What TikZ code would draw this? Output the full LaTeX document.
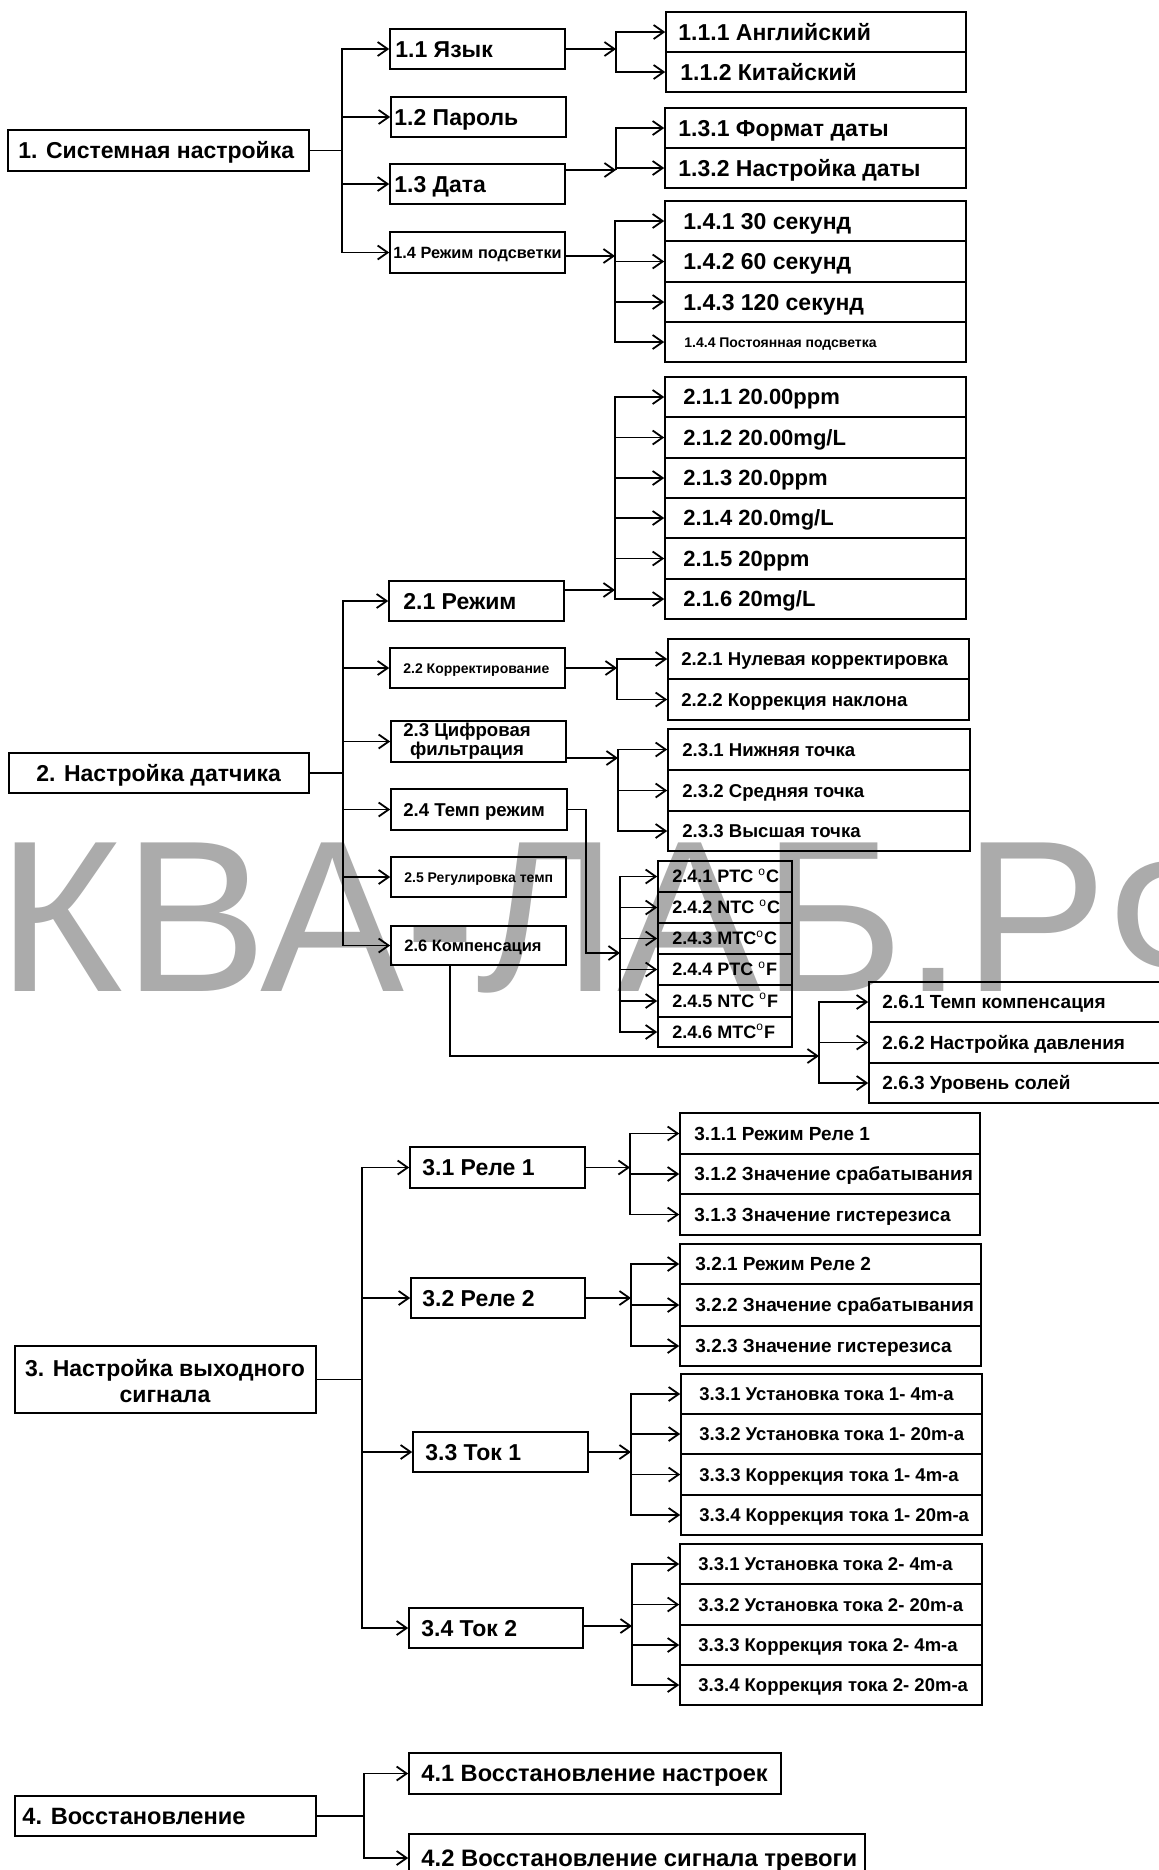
\documentclass[tikz,border=0pt]{standalone}
\usepackage{fontspec}
\setmainfont{Liberation Sans}
\usetikzlibrary{fit,arrows.meta}
\tikzset{
  bxs/.style={draw, line width=0.8pt, inner sep=0pt},
  bxo/.style={draw, line width=0.8pt, inner sep=0pt},
  txt/.style={inner sep=0pt, anchor=base west, font=\bfseries},
  ln/.style={line width=0.9pt},
  arr/.style={line width=0.9pt, -{Straight Barb[length=5pt,width=7pt,line width=0.9pt]}},
}
% box with one line of text: [style]{name}{x1}{y1}{x2}{y2}{text x}{size pt}{text}
\newcommand{\bt}[9][bxs]{%
  \node[#1, fit={(#3,#4)(#5,#6)}] (#2) {};
  \node[txt] (#2t) at (#7,{(#4+#6)/2+0.716*#8}) {\fontsize{#8pt}{#8pt}\selectfont #9};}
\newcommand{\dg}{\textsuperscript{\mdseries o}}
\begin{document}
\begin{tikzpicture}[x=0.5pt,y=-0.5pt]
\useasboundingbox (0,0) rectangle (1159,1870);
\clip (0,0) rectangle (1159,1870);
\fill[white] (0,0) rectangle (1159,1870);
% watermark
\node[inner sep=0, anchor=base west, text=black!33, font=\fontsize{108pt}{108pt}\selectfont] (wm) at (-3,991) {КВА-ЛАБ.РФ};

% ---------- section 1 ----------
\bt{s1}{8}{130}{309}{171}{18}{11.5}{1. Системная настройка}
\bt{n11}{390}{29}{565}{69}{395}{11.5}{1.1 Язык}
\bt{n12}{391}{97}{566}{137}{394}{11.5}{1.2 Пароль}
\bt{n13}{390}{164}{565}{204}{394}{11.5}{1.3 Дата}
\bt{n14}{390}{232}{565}{273}{393}{8.15}{1.4 Режим подсветки}
\bt{n111}{666}{12}{966}{52}{678}{11.5}{1.1.1 Английский}
\bt{n112}{666}{52}{966}{92}{680}{11.5}{1.1.2 Китайский}
\bt{n131}{665}{108}{966}{148}{678}{11.5}{1.3.1 Формат даты}
\bt{n132}{665}{148}{966}{188}{678}{11.5}{1.3.2 Настройка даты}
\bt{n141}{665}{201}{966}{241}{683}{11.5}{1.4.1 30 секунд}
\bt{n142}{665}{241}{966}{282}{683}{11.5}{1.4.2 60 секунд}
\bt{n143}{665}{282}{966}{322}{683}{11.5}{1.4.3 120 секунд}
\bt{n144}{665}{322}{966}{362}{684}{7}{1.4.4 Постоянная подсветка}

\coordinate (tr1) at (342,150.5);
\coordinate (j11) at (616,49);
\coordinate (j13) at (616,170);
\coordinate (j14) at (615,256);
\draw[ln] (s1.east) -- (tr1);
\foreach \c in {n11,n12,n13,n14} \draw[arr] (tr1) |- (\c.west);
\draw[arr] (n11.east) -- (j11);
\foreach \c in {n111,n112} \draw[arr] (j11) |- (\c.west);
\draw[arr] (n13.east |- j13) -- (j13);
\foreach \c in {n131,n132} \draw[arr] (j13) |- (\c.west);
\draw[arr] (n14.east |- j14) -- (j14);
\foreach \c in {n141,n142,n143,n144} \draw[arr] (j14) |- (\c.west);

% ---------- section 2 ----------
\bt{s2}{9}{753}{309}{793}{36}{11.5}{2. Настройка датчика}
\bt{n21}{389}{581}{564}{621}{403}{11.5}{2.1 Режим}
\bt{n22}{390}{648}{565}{688}{403}{7}{2.2 Корректирование}
\node[bxs, fit={(391,721)(566,762)}] (n23) {};
\node[inner sep=0, align=center, font={\fontsize{9.3pt}{8pt}\selectfont\bfseries}] (n23t) at (467,741) {2.3 Цифровая\\фильтрация};
\bt{n24}{391}{789}{567}{830}{403}{9.3}{2.4 Темп режим}
\bt{n25}{391}{857}{566}{897}{404}{7}{2.5 Регулировка темп}
\bt{n26}{391}{926}{566}{965}{404}{8.25}{2.6 Компенсация}

\bt{n211}{665}{377}{966}{417}{683}{11}{2.1.1 20.00ppm}
\bt{n212}{665}{417}{966}{458}{683}{11}{2.1.2 20.00mg/L}
\bt{n213}{665}{458}{966}{498}{683}{11}{2.1.3 20.0ppm}
\bt{n214}{665}{498}{966}{538}{683}{11}{2.1.4 20.0mg/L}
\bt{n215}{665}{538}{966}{579}{683}{11}{2.1.5 20ppm}
\bt{n216}{665}{579}{966}{619}{683}{11}{2.1.6 20mg/L}

\bt{n221}{668}{639}{969}{679}{681}{9.3}{2.2.1 Нулевая корректировка}
\bt{n222}{668}{679}{969}{720}{681}{9.3}{2.2.2 Коррекция наклона}

\bt{n231}{668}{729}{970}{770}{682}{9.3}{2.3.1 Нижняя точка}
\bt{n232}{668}{770}{970}{811}{682}{9.3}{2.3.2 Средняя точка}
\bt{n233}{668}{811}{970}{851}{682}{9.3}{2.3.3 Высшая точка}

\bt[bxo]{n241}{658}{861}{792}{892}{672}{9}{2.4.1 PTC \dg C}
\bt[bxo]{n242}{658}{892}{792}{923}{672}{9}{2.4.2 NTC \dg C}
\bt[bxo]{n243}{658}{923}{792}{954}{672}{9}{2.4.3 MTC\dg C}
\bt[bxo]{n244}{658}{954}{792}{985}{672}{9}{2.4.4 PTC \dg F}
\bt[bxo]{n245}{658}{985}{792}{1017}{672}{9}{2.4.5 NTC \dg F}
\bt[bxo]{n246}{658}{1017}{792}{1047}{672}{9}{2.4.6 MTC\dg F}

\bt{n261}{869}{982}{1175}{1022}{882}{9.5}{2.6.1 Темп компенсация}
\bt{n262}{869}{1022}{1175}{1063}{882}{9.5}{2.6.2 Настройка давления}
\bt{n263}{869}{1063}{1175}{1103}{882}{9.5}{2.6.3 Уровень солей}

\coordinate (tr2) at (343,773);
\coordinate (j21) at (615,590);
\coordinate (j22) at (617,668);
\coordinate (j23) at (618,758);
\coordinate (b24) at (586,809.5);
\coordinate (j24) at (620,953);
\coordinate (b26) at (450,1056);
\coordinate (j26) at (819,1056);
\draw[ln] (s2.east) -- (tr2);
\foreach \c in {n21,n22,n23,n24,n25,n26} \draw[arr] (tr2) |- (\c.west);
\draw[arr] (n21.east |- j21) -- (j21);
\foreach \i in {1,...,6} \draw[arr] (j21) |- (n21\i.west);
\draw[arr] (n22.east) -- (j22);
\foreach \c in {n221,n222} \draw[arr] (j22) |- (\c.west);
\draw[arr] (n23.east |- j23) -- (j23);
\foreach \c in {n231,n232,n233} \draw[arr] (j23) |- (\c.west);
\draw[arr] (n24.east) -- (b24) |- (j24);
\foreach \i in {1,...,6} \draw[arr] (j24) |- (n24\i.west);
\draw[arr] (n26.south -| b26) -- (b26) -- (j26);
\foreach \c in {n261,n262,n263} \draw[arr] (j26) |- (\c.west);

% ---------- section 3 ----------
\node[bxs, fit={(15,1346)(316,1413)}] (s3) {};
\node[inner sep=0, align=center, font={\fontsize{11.5pt}{13pt}\selectfont\bfseries}] (s3t) at (165,1381) {3. Настройка выходного\\сигнала};
\bt{n31}{410}{1147}{585}{1188}{422}{11.5}{3.1 Реле 1}
\bt{n32}{411}{1278}{585}{1318}{422}{11.5}{3.2 Реле 2}
\bt{n33}{413}{1432}{588}{1472}{425}{11.5}{3.3 Ток 1}
\bt{n34}{409}{1608}{583}{1648}{421}{11.5}{3.4 Ток 2}

\bt{n311}{680}{1113}{980}{1154}{694}{9.5}{3.1.1 Режим Реле 1}
\bt{n312}{680}{1154}{980}{1194}{694}{9.5}{3.1.2 Значение срабатывания}
\bt{n313}{680}{1194}{980}{1235}{694}{9.5}{3.1.3 Значение гистерезиса}

\bt{n321}{680}{1244}{981}{1284}{695}{9.5}{3.2.1 Режим Реле 2}
\bt{n322}{680}{1284}{981}{1326}{695}{9.5}{3.2.2 Значение срабатывания}
\bt{n323}{680}{1326}{981}{1366}{695}{9.5}{3.2.3 Значение гистерезиса}

\bt{n331}{681}{1374}{982}{1414}{699}{9.25}{3.3.1 Установка тока 1- 4m-a}
\bt{n332}{681}{1414}{982}{1454}{699}{9.25}{3.3.2 Установка тока 1- 20m-a}
\bt{n333}{681}{1454}{982}{1495}{699}{9.25}{3.3.3 Коррекция тока 1- 4m-a}
\bt{n334}{681}{1495}{982}{1535}{699}{9.25}{3.3.4 Коррекция тока 1- 20m-a}

\bt{n341}{680}{1544}{982}{1584}{698}{9.25}{3.3.1 Установка тока 2- 4m-a}
\bt{n342}{680}{1584}{982}{1625}{698}{9.25}{3.3.2 Установка тока 2- 20m-a}
\bt{n343}{680}{1625}{982}{1665}{698}{9.25}{3.3.3 Коррекция тока 2- 4m-a}
\bt{n344}{680}{1665}{982}{1705}{698}{9.25}{3.3.4 Коррекция тока 2- 20m-a}

\coordinate (tr3) at (362,1379.5);
\coordinate (j31) at (630,1167.5);
\coordinate (j32) at (631,1298);
\coordinate (j33) at (631,1452);
\coordinate (j34) at (632,1626);
\draw[ln] (s3.east) -- (tr3);
\foreach \c in {n31,n32,n33,n34} \draw[arr] (tr3) |- (\c.west);
\draw[arr] (n31.east) -- (j31);
\foreach \i in {1,2,3} \draw[arr] (j31) |- (n31\i.west);
\draw[arr] (n32.east) -- (j32);
\foreach \i in {1,2,3} \draw[arr] (j32) |- (n32\i.west);
\draw[arr] (n33.east) -- (j33);
\foreach \i in {1,2,3,4} \draw[arr] (j33) |- (n33\i.west);
\draw[arr] (n34.east |- j34) -- (j34);
\foreach \i in {1,2,3,4} \draw[arr] (j34) |- (n34\i.west);

% ---------- section 4 ----------
\bt{s4}{15}{1796}{316}{1836}{22}{11.8}{4. Восстановление}
\bt{n41}{409}{1753}{781}{1794}{421}{11.8}{4.1 Восстановление настроек}
\bt{n42}{409}{1834}{865}{1882}{421}{11.9}{4.2 Восстановление сигнала тревоги}
\coordinate (tr4) at (364,1816);
\draw[ln] (s4.east) -- (tr4);
\foreach \c in {n41,n42} \draw[arr] (tr4) |- (\c.west);
\end{tikzpicture}
\end{document}
